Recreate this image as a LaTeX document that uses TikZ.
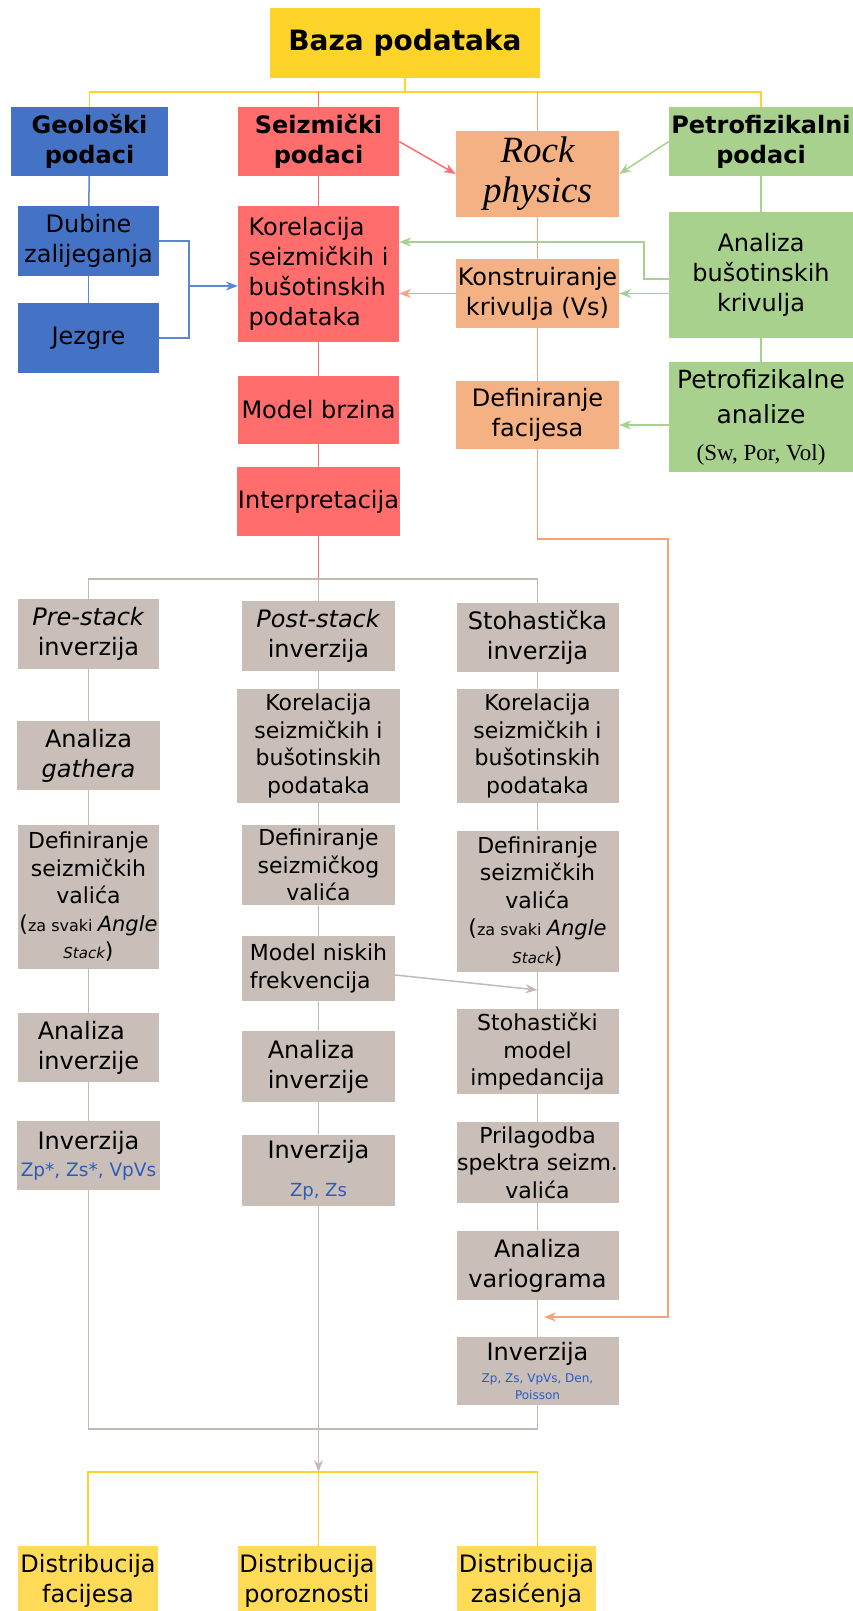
\documentclass[tikz,border=0pt]{standalone}
\usepackage{fontspec}
\setmainfont{DejaVu Sans}
\newfontfamily\timesfont{Liberation Serif}
\usepackage{tikz}
\usetikzlibrary{arrows.meta}
\definecolor{bazayellow}{RGB}{255,212,42}
\definecolor{distyellow}{RGB}{255,219,88}
\definecolor{geoblue}{RGB}{68,114,196}
\definecolor{seisred}{RGB}{255,109,109}
\definecolor{rockorange}{RGB}{244,177,131}
\definecolor{petrogreen}{RGB}{169,209,142}
\definecolor{invgrey}{RGB}{201,190,184}
\definecolor{valblue}{RGB}{42,92,192}
\definecolor{linkblue}{RGB}{90,135,215}
\definecolor{linkorange}{RGB}{244,165,120}
\definecolor{linkgrey}{RGB}{196,186,180}
\newcommand{\bigtxt}{\fontsize{24}{30}\selectfont}
\newcommand{\smltxt}{\fontsize{22}{27.5}\selectfont}

\begin{document}
\begin{tikzpicture}[x=1pt, y=-1pt,
  box/.style={rectangle, inner sep=0pt, align=center, font=\bigtxt},
  dense/.style={font=\smltxt},
  head/.style={font=\bfseries\fontsize{24}{30}\selectfont},
  wh/.style 2 args={minimum width=#1pt, minimum height=#2pt},
  link/.style={line width=1.5pt},
  arr/.style={link, -{Stealth[length=12pt, width=9pt]}}
]
\useasboundingbox (0,0) rectangle (853,1611);

% top level
\node[box, fill=bazayellow, wh={270}{70}, font=\bfseries\fontsize{28}{30}\selectfont] (baza) at (405,43) {Baza podataka};
\coordinate (top) at (405,92);

\node[box, head, fill=geoblue, wh={157}{69}] (geo) at (89.5,141.5) {Geološki\\podaci};
\node[box, head, fill=seisred, wh={161}{69}] (seiz) at (318.5,141.5) {Seizmički\\podaci};
\node[box, fill=rockorange, wh={163}{86}, font=\timesfont\itshape\fontsize{37}{40}\selectfont] (rock) at (537.5,174) {Rock\\physics};
\node[box, head, fill=petrogreen, wh={184}{69}] (petro) at (761,141.5) {Petrofizikalni\\podaci};

% data column boxes
\node[box, fill=geoblue, wh={141}{70}] (dubine) at (88.5,241) {Dubine\\zalijeganja};
\node[box, fill=geoblue, wh={141}{70}] (jezgre) at (88.5,338) {Jezgre};
\node[box, fill=seisred, wh={161}{136}, align=left] (korel) at (318.5,274) {Korelacija\\seizmičkih i\\bušotinskih\\podataka};
\node[box, fill=seisred, wh={161}{68}] (model) at (318.5,410) {Model brzina};
\node[box, fill=seisred, wh={163}{69}] (interp) at (318.5,501.5) {Interpretacija};
\node[box, fill=rockorange, wh={163}{69}] (konstr) at (537.5,293.5) {Konstruiranje\\krivulja (Vs)};
\node[box, fill=rockorange, wh={163}{68}] (deffac) at (537.5,415) {Definiranje\\facijesa};
\node[box, fill=petrogreen, wh={184}{126}] (analiza) at (761,275) {Analiza\\bušotinskih\\krivulja};
\node[box, fill=petrogreen, wh={184}{110}, font=\fontsize{25}{35}\selectfont] (petroan) at (761,417) {Petrofizikalne\\analize\\[2pt]\timesfont\fontsize{23}{28}\selectfont (Sw, Por, Vol)};

% inversion columns
\node[box, fill=invgrey, wh={141}{70}] (pre1) at (88.5,634) {\textit{Pre-stack}\\inverzija};
\node[box, fill=invgrey, wh={143}{69}] (pre2) at (88.5,755.5) {Analiza\\\textit{gathera}};
\node[box, dense, fill=invgrey, wh={141}{144}] (pre3) at (88.5,897) {Definiranje\\seizmičkih\\valića\\(\fontsize{16}{20}\selectfont za svaki \fontsize{21}{26}\selectfont\itshape Angle\\\fontsize{15}{20}\selectfont\itshape Stack\upshape\smltxt)};
\node[box, fill=invgrey, wh={141}{69}, align=left] (pre4) at (88.5,1047.5) {Analiza\\inverzije};
\node[box, fill=invgrey, wh={143}{69}] (pre5) at (88.5,1155.5) {Inverzija\\[-3pt]\color{valblue}\fontsize{18.5}{24}\selectfont Zp*, Zs*, VpVs};

\node[box, fill=invgrey, wh={153}{70}] (post1) at (318.5,636) {\textit{Post-stack}\\inverzija};
\node[box, dense, fill=invgrey, wh={163}{114}] (post2) at (318.5,746) {Korelacija\\seizmičkih i\\bušotinskih\\podataka};
\node[box, dense, fill=invgrey, wh={153}{80}] (post3) at (318.5,865) {Definiranje\\seizmičkog\\valića};
\node[box, dense, fill=invgrey, wh={153}{65}, align=left] (post4) at (318.5,968.5) {Model niskih\\frekvencija};
\node[box, fill=invgrey, wh={153}{71}, align=left] (post5) at (318.5,1066.5) {Analiza\\inverzije};
\node[box, fill=invgrey, wh={153}{71}] (post6) at (318.5,1170.5) {Inverzija\\[8pt]\color{valblue}\fontsize{18}{22}\selectfont Zp, Zs};

\node[box, fill=invgrey, wh={162}{69}] (sto1) at (537.5,637.5) {Stohastička\\inverzija};
\node[box, dense, fill=invgrey, wh={162}{114}] (sto2) at (537.5,746) {Korelacija\\seizmičkih i\\bušotinskih\\podataka};
\node[box, dense, fill=invgrey, wh={162}{141}] (sto3) at (537.5,901.5) {Definiranje\\seizmičkih\\valića\\(\fontsize{16}{20}\selectfont za svaki \fontsize{21}{26}\selectfont\itshape Angle\\\fontsize{15}{20}\selectfont\itshape Stack\upshape\smltxt)};
\node[box, dense, fill=invgrey, wh={162}{85}] (sto4) at (537.5,1051.5) {Stohastički\\model\\impedancija};
\node[box, dense, fill=invgrey, wh={162}{81}] (sto5) at (537.5,1162.5) {Prilagodba\\spektra seizm.\\valića};
\node[box, fill=invgrey, wh={162}{69}] (sto6) at (537.5,1265.5) {Analiza\\variograma};
\node[box, fill=invgrey, wh={162}{68}] (sto7) at (537.5,1371) {Inverzija\\[-8pt]{\color{valblue}\fontsize{12}{16.5}\selectfont Zp, Zs, VpVs, Den,}\\[-13.5pt]{\color{valblue}\fontsize{12}{16.5}\selectfont Poisson}};

% results
\node[box, fill=distyellow, wh={140}{70}] (dist1) at (88,1581) {Distribucija\\facijesa};
\node[box, fill=distyellow, wh={138}{70}] (dist2) at (307,1581) {Distribucija\\poroznosti};
\node[box, fill=distyellow, wh={139}{70}] (dist3) at (526.5,1581) {Distribucija\\zasićenja};

% top tree
\draw[link, bazayellow] (baza.south) -- (top);
\draw[link, bazayellow] (geo.north) -- (geo.north |- top) -- (petro.north |- top) -- (petro.north);
\draw[link, seisred] (seiz.north |- top) -- (seiz.north);
\draw[link, linkorange] (rock.north |- top) -- (rock.north);

% geology
\coordinate (bj) at (189,286);
\foreach \a/\b in {geo/dubine, dubine/jezgre}
  \draw[link, linkblue] (\a) -- (\b);
\draw[link, linkblue] (dubine.east) -| (bj) |- (jezgre.east);
\draw[arr, linkblue] (bj) -- (bj -| korel.west);

% seismic
\coordinate (gsplit) at (318.5,579);
\foreach \a/\b in {seiz/korel, korel/model, model/interp}
  \draw[link, seisred] (\a) -- (\b);
\draw[link, seisred] (interp) -- (gsplit);
\draw[arr, seisred] (seiz.east) -- (rock.west);

% rock physics
\coordinate (ol) at (668,539);
\coordinate (ot) at (544,1317);
\foreach \a/\b in {rock/konstr, konstr/deffac}
  \draw[link, linkorange] (\a) -- (\b);
\draw[arr, linkorange] (deffac.south) |- (ol) |- (ot);
\draw[arr, linkorange] (konstr.west) -- (konstr.west -| korel.east);

% petrophysics
\coordinate (gk) at (644,242);
\foreach \a/\b in {petro/analiza, analiza/petroan}
  \draw[link, petrogreen] (\a) -- (\b);
\draw[arr, petrogreen] (petro.west) -- (rock.east);
\draw[arr, petrogreen] (analiza.west |- 0,279) -| (gk) -- (gk -| korel.east);
\draw[arr, petrogreen] (analiza.west |- konstr.east) -- (konstr.east);
\draw[arr, petrogreen] (petroan.west |- 0,425) -- (deffac.east |- 0,425);

% inversion tree
\coordinate (gjoin) at (318.5,1429);
\coordinate (ybar) at (318.5,1472);
\draw[link, linkgrey] (pre1.north) -- (pre1.north |- gsplit) -- (sto1.north |- gsplit) -- (sto1.north);
\draw[link, linkgrey] (gsplit) -- (post1.north);
\foreach \a/\b in {pre1/pre2, pre2/pre3, pre3/pre4, pre4/pre5,
                   post1/post2, post2/post3, post3/post4, post4/post5, post5/post6,
                   sto1/sto2, sto2/sto3, sto3/sto4, sto4/sto5, sto5/sto6, sto6/sto7}
  \draw[link, linkgrey] (\a) -- (\b);
\draw[link, linkgrey] (pre5) -- (pre5 |- gjoin) -- (sto7 |- gjoin) -- (sto7);
\draw[arr, linkgrey] (post4.east |- 0,975) -- (sto3.south |- 0,990);

% results
\draw[link, bazayellow] (dist1) -- (dist1 |- ybar) -- (sto7 |- ybar) -- (sto7 |- dist3.north);
\draw[link, bazayellow] (ybar) -- (ybar |- dist2.north);
\draw[arr, linkgrey] (post6) -- (ybar);
\end{tikzpicture}
\end{document}
